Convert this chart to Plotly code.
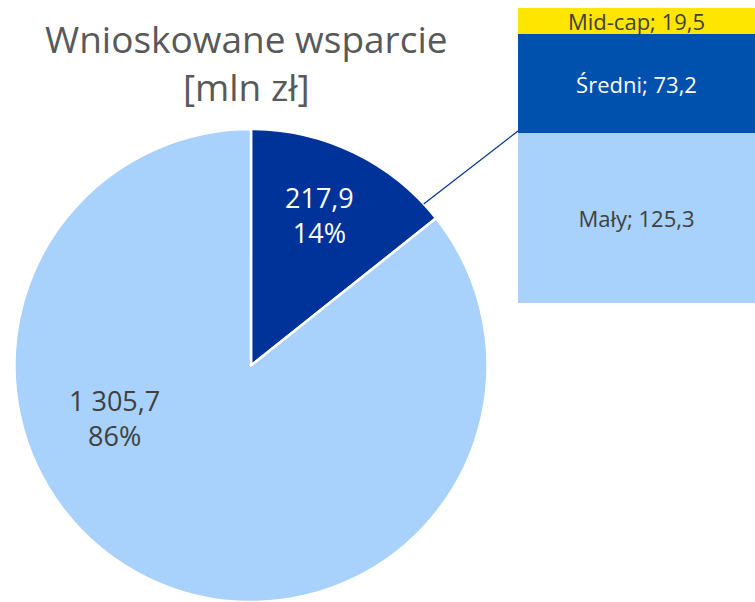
import plotly.graph_objects as go
import math

# ---- data ----
pie_labels = ["Wybrane", "Pozostałe"]
pie_values = [217.9, 1305.7]
pie_colors = ["#003399", "#A8D1FC"]
pie_text_colors = ["#FFFFFF", "#404040"]

bar_labels = ["Mały", "Średni", "Mid-cap"]
bar_values = [125.3, 73.2, 19.5]
bar_colors = ["#A8D1FC", "#0050AE", "#FFE600"]
bar_text_colors = ["#404040", "#FFFFFF", "#404040"]

title_text = "Wnioskowane wsparcie<br>[mln zł]"

W, H = 755, 602
FONT = "Open Sans"


def fmt(v):
    s = f"{v:,.1f}"
    return s.replace(",", " ").replace(".", ",")


fig = go.Figure()

# pie geometry (paper)
pie_dom_x = [14 / W, 488 / W]
pie_dom_y = [0.0, 473 / H]
cx = (pie_dom_x[0] + pie_dom_x[1]) / 2 * W
R = min((pie_dom_x[1] - pie_dom_x[0]) * W, (pie_dom_y[1] - pie_dom_y[0]) * H) / 2
cy_px = H - (pie_dom_y[0] + pie_dom_y[1]) / 2 * H  # from top

fig.add_trace(go.Pie(
    labels=pie_labels, values=pie_values, sort=False, direction="clockwise",
    rotation=0, marker=dict(colors=pie_colors, line=dict(color="white", width=2.5)),
    textinfo="none", hoverinfo="label+value+percent",
    domain=dict(x=pie_dom_x, y=pie_dom_y), showlegend=False,
))

for lab, val, col, tcol in zip(bar_labels, bar_values, bar_colors, bar_text_colors):
    fig.add_trace(go.Bar(
        x=["Pozostałe"], y=[val], name=lab, marker=dict(color=col, line=dict(width=0)),
        text=[f"{lab}; {fmt(val)}"], texttemplate="%{text}", textposition="inside",
        insidetextanchor="middle", constraintext="none",
        textfont=dict(family=FONT, size=22, color=tcol),
        insidetextfont=dict(family=FONT, size=22, color=tcol), showlegend=False,
        xaxis="x", yaxis="y", width=1,
    ))

total_bar = sum(bar_values)
fig.update_layout(
    width=W, height=H, margin=dict(l=0, r=0, t=0, b=0),
    paper_bgcolor="white", plot_bgcolor="white",
    barmode="stack", bargap=0, separators=", ",
    xaxis=dict(domain=[518 / W, 1.0], range=[-0.5, 0.5], visible=False, fixedrange=True),
    yaxis=dict(domain=[299 / H, 594 / H], range=[0, total_bar], visible=False, fixedrange=True),
    font=dict(family=FONT),
)

# pie labels
total = sum(pie_values)
label_pos = [(24.6, 0.70), (249.0, 0.62)]  # (angle clockwise from top, fraction of radius)
for v, tcol, (ang, fr) in zip(pie_values, pie_text_colors, label_pos):
    px = cx + fr * R * math.sin(math.radians(ang))
    py = cy_px - fr * R * math.cos(math.radians(ang))
    fig.add_annotation(
        x=px / W, y=1 - py / H, xref="paper", yref="paper", showarrow=False,
        xanchor="center", yanchor="middle",
        text=f"{fmt(v)}<br>{round(v / total * 100)}%",
        font=dict(family=FONT, size=27, color=tcol), align="center",
    )

# connector line: from pie edge to bar boundary
ang = 46.9
sx = cx + R * math.sin(math.radians(ang))
sy = cy_px - R * math.cos(math.radians(ang))
fig.add_shape(type="line", xref="paper", yref="paper",
              x0=sx / W, y0=1 - sy / H, x1=518 / W, y1=1 - 131 / H,
              line=dict(color="#003399", width=1.2))

# title
fig.add_annotation(
    x=246 / W, y=1 - 62 / H, xref="paper", yref="paper", showarrow=False,
    xanchor="center", yanchor="middle",
    text=title_text, font=dict(family=FONT, size=37, color="#595959"), align="center",
)

fig.write_html("out.html", config={"displayModeBar": False})
with open("out.html", encoding="utf-8") as f:
    html = f.read()
html = html.replace("<body>", '<body style="margin:0;padding:0;overflow:hidden">', 1)
with open("out.html", "w", encoding="utf-8") as f:
    f.write(html)
